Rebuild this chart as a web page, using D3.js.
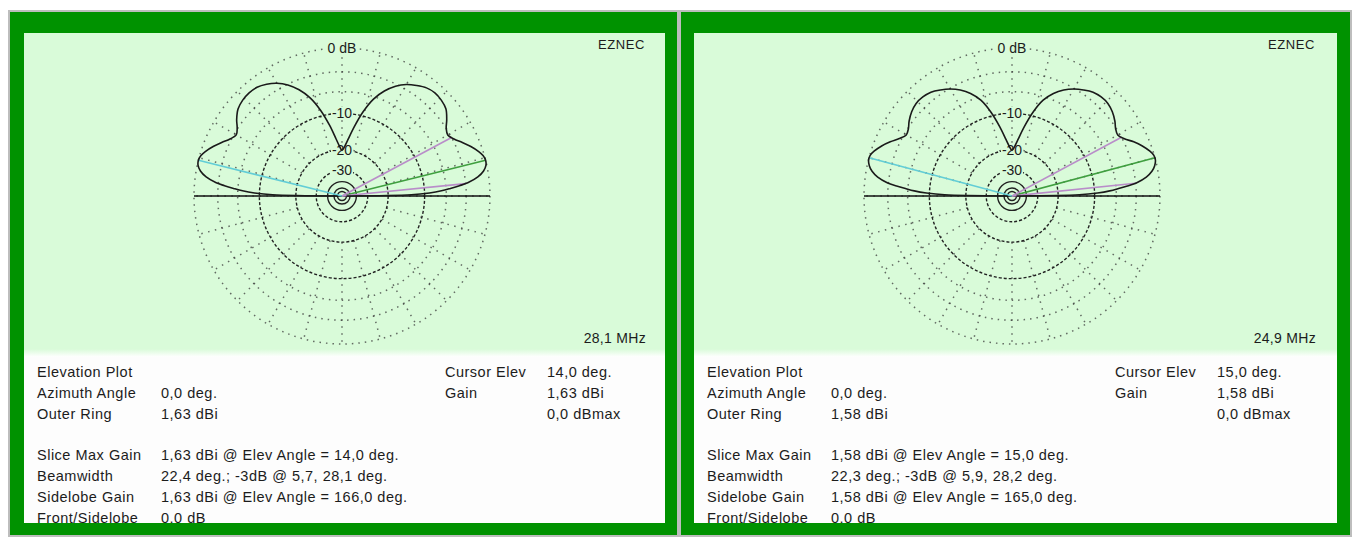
<!DOCTYPE html>
<html><head><meta charset="utf-8">
<script src="https://cdn.jsdelivr.net/npm/d3@7"></script>
<style>
html,body{margin:0;padding:0;background:#fff;}
svg{display:block;}
text{font-family:"Liberation Sans",Arial,sans-serif;fill:#1c1c1c;}
</style></head><body>
<svg id="chart" width="1354" height="537"></svg>
<script>
// Elevation angles (deg) at which the pattern is sampled
const elevAngles = [0,1,2,3,4,5,6,8,10,12,14,16,18,21,24,27,30,33,36,40,44,48,52,56,60,64,68,72,76,80,84,87,90,
  93,96,100,104,108,112,116,120,124,128,132,136,140,144,147,150,153,156,159,162,164,166,168,170,172,174,175,176,177,178,179,180];

// Gain relative to the outer ring (dB) — 28,1 MHz
const gain281 = [-60,-13,-9,-6.8,-5.3,-3.9,-2.7,-1.3,-0.5,-0.1,0,-0.15,-0.5,-1.2,-2.0,-2.8,-3.3,-3.0,-2.3,-1.5,-1.2,-1.1,-1.3,-1.8,-2.4,-3.3,-4.6,-6.4,-9.2,-12.8,-16.5,-18.8,-20.2,
  -18.6,-16.2,-12.4,-8.9,-6.2,-4.4,-3.1,-2.2,-1.6,-1.2,-1.1,-1.2,-1.5,-2.2,-2.9,-3.3,-2.8,-2.0,-1.2,-0.5,-0.15,0,-0.1,-0.5,-1.3,-2.7,-3.9,-5.3,-6.8,-9,-13,-60];

// Gain relative to the outer ring (dB) — 24,9 MHz
const gain249 = [-60,-13.5,-9.4,-7.1,-5.6,-4.2,-2.9,-1.5,-0.7,-0.25,-0.02,-0.05,-0.35,-1.0,-1.8,-2.75,-3.3,-3.1,-2.6,-2.1,-1.8,-1.8,-2.0,-2.5,-3.1,-3.9,-5.0,-6.6,-9.3,-12.8,-16.5,-18.8,-20.2,
  -18.8,-16.5,-12.8,-9.3,-6.6,-5.0,-3.9,-3.1,-2.5,-2.0,-1.8,-1.8,-2.1,-2.6,-3.1,-3.3,-2.7,-1.8,-1.0,-0.35,-0.05,-0.02,-0.25,-0.7,-1.5,-2.9,-4.2,-5.6,-7.1,-9.4,-13.5,-60];

const freqLabels   = ["28,1 MHz", "24,9 MHz"];
const azimuthDeg   = [0.0, 0.0];
const outerRingDbi = [1.63, 1.58];
const maxGainDbi   = [1.63, 1.58];
const maxElevDeg   = [14.0, 15.0];
const bwLowDeg     = [5.7, 5.9];
const bwHighDeg    = [28.1, 28.2];
const sideGainDbi  = [1.63, 1.58];
const sideElevDeg  = [166.0, 165.0];

// Grid rings (dB) and their labels
const dottedRingsDb = [0, -3, -6];
const dashedRingsDb = [-10, -20, -30];
const solidRingsDb  = [-40, -50, -60];
const ringLabelDb   = [0, -10, -20, -30];
const ringLabelText = ["0 dB", "-10", "-20", "-30"];
const spokeStepDeg  = 15;

const gains = [gain281, gain249];

const svg = d3.select("#chart");
const C_FRAME = "#bdbdbd", C_GREEN = "#009200", C_PLOT = "#d9fbd9";

// frame: grey outline, green borders
svg.append("rect").attr("x", 8).attr("y", 10).attr("width", 1344).attr("height", 527).attr("fill", C_FRAME);
const panelX = [0, 670];
const greenBox = [[10, 12, 667, 523], [681, 12, 669, 523]];
const innerBox = [[24, 33, 641, 490], [694, 33, 643, 490]];

const R = 148;
// ARRL log scale: radius shrinks by 0.89 for every 2 dB
const rScale = d3.scaleLog().domain([R * Math.pow(0.89, 30), R]).range([-60, 0]);
const rad = db => rScale.invert(db);
const angle = d3.scaleLinear().domain([0, 180]).range([Math.PI / 2, -Math.PI / 2]);
const pt = (el, r) => [r * Math.sin(angle(el)), -r * Math.cos(angle(el))];

const f1 = v => d3.format(".1f")(v).replace(".", ",");
const f2 = v => d3.format(".2f")(v).replace(".", ",");

const defs = svg.append("defs");
const grad = defs.append("linearGradient").attr("id", "fade").attr("x1", 0).attr("x2", 0).attr("y1", 0).attr("y2", 1);
grad.append("stop").attr("offset", "0%").attr("stop-color", C_PLOT);
grad.append("stop").attr("offset", "100%").attr("stop-color", "#ffffff");

[0, 1].forEach(i => {
  const gb = greenBox[i], ib = innerBox[i];
  svg.append("rect").attr("x", gb[0]).attr("y", gb[1]).attr("width", gb[2]).attr("height", gb[3]).attr("fill", C_GREEN);
  defs.append("clipPath").attr("id", "clip" + i).append("rect")
    .attr("x", ib[0]).attr("y", ib[1]).attr("width", ib[2]).attr("height", ib[3]);
  const g = svg.append("g").attr("clip-path", `url(#clip${i})`);
  g.append("rect").attr("x", ib[0]).attr("y", ib[1]).attr("width", ib[2]).attr("height", ib[3]).attr("fill", "#fdfdfd");
  g.append("rect").attr("x", ib[0]).attr("y", ib[1]).attr("width", ib[2]).attr("height", 316).attr("fill", C_PLOT);
  g.append("rect").attr("x", ib[0]).attr("y", 349).attr("width", ib[2]).attr("height", 8).attr("fill", "url(#fade)");

  const ox = panelX[i];
  const cx = 342 + ox, cy = 196;
  const p = g.append("g").attr("transform", `translate(${cx},${cy})`);

  // spokes
  const spokes = d3.range(0, 360, spokeStepDeg);
  p.selectAll(".spoke").data(spokes).join("line")
    .attr("x1", d => rad(-20) * Math.cos(d * Math.PI / 180))
    .attr("y1", d => -rad(-20) * Math.sin(d * Math.PI / 180))
    .attr("x2", d => R * Math.cos(d * Math.PI / 180))
    .attr("y2", d => -R * Math.sin(d * Math.PI / 180))
    .attr("stroke", "#3a3a3a").attr("stroke-opacity", 0.75).attr("stroke-width", 1.5)
    .attr("stroke-dasharray", "1.5 5.5");

  p.selectAll(".dring").data(dottedRingsDb).join("circle")
    .attr("r", d => rad(d)).attr("fill", "none")
    .attr("stroke", "#3a3a3a").attr("stroke-opacity", 0.75).attr("stroke-width", 1.5)
    .attr("stroke-dasharray", "1.5 5");
  p.selectAll(".kring").data(dashedRingsDb).join("circle")
    .attr("r", d => rad(d)).attr("fill", "none")
    .attr("stroke", "#222").attr("stroke-width", 1.4)
    .attr("stroke-dasharray", "3 2");
  p.selectAll(".sring").data(solidRingsDb).join("circle")
    .attr("r", d => rad(d)).attr("fill", "none")
    .attr("stroke", "#222").attr("stroke-width", 1.4);

  // ring labels with knocked-out background
  const labs = p.selectAll(".rl").data(ringLabelDb).join("g")
    .attr("transform", d => `translate(0,${-rad(d)})`);
  labs.append("rect").attr("x", (d, k) => k === 0 ? -15 : -11).attr("y", -7)
    .attr("width", (d, k) => k === 0 ? 30 : 22).attr("height", 13).attr("fill", C_PLOT);
  labs.append("text").attr("text-anchor", "middle").attr("y", 5)
    .attr("font-size", 14).text((d, k) => ringLabelText[k]);

  // ground line
  p.append("line").attr("x1", -R).attr("x2", R).attr("y1", 0).attr("y2", 0)
    .attr("stroke", "#111").attr("stroke-width", 1.6);

  // cursor / beamwidth / sidelobe lines
  const ray = (el, db, col) => {
    const [x, y] = pt(el, rad(db));
    p.append("line").attr("x1", 0).attr("y1", 0).attr("x2", x).attr("y2", y)
      .attr("stroke", col).attr("stroke-width", 1.6);
  };
  ray(sideElevDeg[i], sideGainDbi[i] - outerRingDbi[i], "#62cdd6");
  ray(maxElevDeg[i], maxGainDbi[i] - outerRingDbi[i], "#3f9f3f");
  ray(bwLowDeg[i], maxGainDbi[i] - outerRingDbi[i] - 3, "#b98dc9");
  ray(bwHighDeg[i], maxGainDbi[i] - outerRingDbi[i] - 3, "#b98dc9");

  // pattern
  const pts = elevAngles.map((el, k) => ({ el, g: gains[i][k] }));
  const line = d3.lineRadial().angle(d => angle(d.el)).radius(d => rad(d.g))
    .curve(d3.curveCatmullRom.alpha(0.5));
  p.append("path").attr("d", line(pts)).attr("fill", "none")
    .attr("stroke", "#1a1a1a").attr("stroke-width", 1.6);

  // corner texts
  g.append("text").attr("x", 645 + ox).attr("y", 49).attr("text-anchor", "end")
    .attr("font-size", 13).attr("letter-spacing", 0.6).text("EZNEC");
  g.append("text").attr("x", 646 + ox).attr("y", 343).attr("text-anchor", "end")
    .attr("font-size", 14).attr("letter-spacing", 0.3).text(freqLabels[i]);

  // info block
  const rowY = k => 377 + k * 20.85;
  const leftLabels = ["Elevation Plot", "Azimuth Angle", "Outer Ring", "", "Slice Max Gain", "Beamwidth", "Sidelobe Gain", "Front/Sidelobe"];
  const leftValues = ["", `${f1(azimuthDeg[i])} deg.`, `${f2(outerRingDbi[i])} dBi`, "",
    `${f2(maxGainDbi[i])} dBi @ Elev Angle = ${f1(maxElevDeg[i])} deg.`,
    `${f1(bwHighDeg[i] - bwLowDeg[i])} deg.; -3dB @ ${f1(bwLowDeg[i])}, ${f1(bwHighDeg[i])} deg.`,
    `${f2(sideGainDbi[i])} dBi @ Elev Angle = ${f1(sideElevDeg[i])} deg.`,
    `${f1(maxGainDbi[i] - sideGainDbi[i])} dB`];
  const info = g.append("g").attr("font-size", 14.5).attr("letter-spacing", 0.5);
  leftLabels.forEach((t, k) => {
    if (t) info.append("text").attr("x", 37 + ox).attr("y", rowY(k)).text(t);
    if (leftValues[k]) info.append("text").attr("x", 161 + ox).attr("y", rowY(k)).text(leftValues[k]);
  });
  const rLabels = ["Cursor Elev", "Gain", ""];
  const rValues = [`${f1(maxElevDeg[i])} deg.`, `${f2(maxGainDbi[i])} dBi`, `${f1(maxGainDbi[i] - outerRingDbi[i])} dBmax`];
  rLabels.forEach((t, k) => {
    if (t) info.append("text").attr("x", 445 + ox).attr("y", rowY(k)).text(t);
    info.append("text").attr("x", 547 + ox).attr("y", rowY(k)).text(rValues[k]);
  });
});
</script>
</body></html>
